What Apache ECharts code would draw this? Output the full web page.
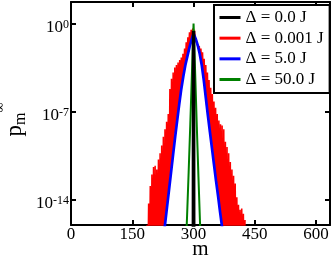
<!DOCTYPE html>
<html>
<head>
<meta charset="utf-8">
<script src="https://cdn.jsdelivr.net/npm/echarts@6/dist/echarts.min.js"></script>
<style>html,body{margin:0;padding:0;background:#fff}#c{width:332px;height:256px}</style>
</head>
<body>
<div id="c"></div>
<script>
// x tick labels and log10 exponents of y tick labels
var xTicks = [0, 150, 300, 450, 600];
var yTickExps = [-14, -7, 0];
var legendNames = ['\u0394 = 0.0 J', '\u0394 = 0.001 J', '\u0394 = 5.0 J', '\u0394 = 50.0 J'];

// series values: m and log10(p_m)
var blackM = [299, 300, 301];
var blackL = [-40, -0.6, -40];

var greenM = [282, 284, 288, 292, 296, 300, 304, 308, 312, 316, 318];
var greenL = [-17, -15.4, -11.8, -8, -4, 0, -4, -8.2, -12.2, -16, -17.5];

var blueM = [228, 230, 235, 240, 245, 250, 255, 260, 265, 270, 275, 280, 285, 290, 295, 300,
             305, 310, 315, 320, 325, 330, 335, 340, 345, 350, 355, 360, 365, 370, 372];
var blueL = [-16.6, -16.0, -14.6, -13.2, -11.8, -10.4, -9.0, -7.7, -6.4, -5.2, -4.2, -3.3, -2.6, -1.9, -1.3, -0.8,
             -1.2, -1.7, -2.4, -3.3, -4.5, -5.9, -7.3, -8.6, -9.9, -11.2, -12.5, -13.7, -15.0, -16.2, -16.7];

// noisy red curve: m from 186 to 426 in steps of 2
var redM0 = 186, redStep = 2;
var redL = [
  -16.0, -20, -14.3, -20, -12.9, -20, -12.0, -20, -11.4, -20,
  -11.3, -20, -11.6, -20, -10.8, -20, -10.3, -20, -9.7, -20,
  -9.0, -20, -8.4, -15.4, -7.8, -14.3, -7.2, -13.2, -5.2, -12.1,
  -4.4, -11.0, -3.9, -9.8, -3.5, -8.7, -3.3, -7.7, -3.1, -6.6,
  -2.9, -5.7, -2.7, -4.8, -2.4, -4.0, -2.0, -3.3, -1.5, -2.7,
  -1.1, -2.2, -0.7, -1.7, -0.5, -1.2, -0.4, -0.9, -0.5, -1.2,
  -1.1, -1.6, -1.5, -2.0, -1.8, -2.6, -2.0, -3.3, -2.3, -4.3,
  -2.8, -5.3, -3.3, -6.5, -3.9, -7.6, -4.5, -8.6, -5.1, -9.6,
  -5.6, -10.7, -6.2, -11.7, -6.7, -12.7, -7.2, -13.7, -7.7, -14.7,
  -8.0, -15.7, -8.1, -20, -8.4, -20, -9.4, -20, -9.8, -20,
  -10.3, -20, -11.0, -20, -11.6, -20, -12.1, -20, -12.7, -20,
  -13.8, -20, -14.4, -20, -14.8, -20, -14.7, -20, -15.1, -20,
  -15.6
];

function pairs(ms, ls) { return ms.map(function (m, i) { return [m, ls[i]]; }); }
var redData = redL.map(function (l, i) { return [redM0 + i * redStep, l]; });

var FONT = 'Liberation Serif';
var X_MIN = 0, X_MAX = 634, Y_MIN = -16, Y_MAX = 1.7;

var chart = echarts.init(document.getElementById('c'), null, {renderer: 'canvas'});
function axisLine() { return {show: true, onZero: false, lineStyle: {color: '#000', width: 2}}; }
function ticks(vals) { return {show: true, inside: true, length: 5, lineStyle: {color: '#000', width: 2}, customValues: vals}; }
chart.setOption({
  animation: false,
  backgroundColor: '#fff',
  textStyle: {fontFamily: FONT, color: '#000'},
  grid: {left: 71, right: 2, top: 2, bottom: 31, containLabel: false, outerBoundsMode: 'none'},
  legend: {
    orient: 'vertical', left: 214, top: 5,
    padding: [4, 6, 5, 4],
    itemWidth: 21, itemHeight: 14, itemGap: 3.67,
    borderColor: '#000', borderWidth: 2, borderRadius: 0,
    backgroundColor: '#fff',
    data: legendNames,
    lineStyle: {width: 3},
    itemStyle: {opacity: 0},
    textStyle: {fontFamily: FONT, fontSize: 17, color: '#000', lineHeight: 14}
  },
  xAxis: [{
    type: 'value', min: X_MIN, max: X_MAX, position: 'bottom',
    name: 'm', nameLocation: 'middle', nameGap: 14, nameMoveOverlap: false,
    nameTextStyle: {fontFamily: FONT, fontSize: 21, color: '#000'},
    axisLine: axisLine(),
    axisTick: ticks(xTicks),
    axisLabel: {show: true, margin: 1, fontFamily: FONT, fontSize: 17, color: '#000', customValues: xTicks},
    splitLine: {show: false}
  }, {
    type: 'value', min: X_MIN, max: X_MAX, position: 'top',
    axisLine: axisLine(),
    axisTick: ticks(xTicks),
    axisLabel: {show: false},
    splitLine: {show: false}
  }],
  yAxis: [{
    type: 'value', min: Y_MIN, max: Y_MAX, position: 'left',
    name: '{p|p}{m|m}{i|\u221E}', nameLocation: 'middle', nameRotate: 90, nameGap: 35, nameMoveOverlap: false,
    nameTextStyle: {
      fontFamily: FONT, color: '#000', padding: [0, 12, 0, 0],
      rich: {
        p: {fontFamily: FONT, fontSize: 23, lineHeight: 43, color: '#000'},
        m: {fontFamily: FONT, fontSize: 16, lineHeight: 16, verticalAlign: 'bottom', padding: [0, 0, 6.8, 0], color: '#000'},
        i: {fontFamily: FONT, fontSize: 14, lineHeight: 14, verticalAlign: 'top', color: '#000'}
      }
    },
    axisLine: axisLine(),
    axisTick: ticks(yTickExps),
    axisLabel: {
      show: true, margin: 2, customValues: yTickExps,
      padding: [7.75, 0, 0, 0],
      formatter: function (v) { return '{b|10}{s|' + v + '}'; },
      rich: {
        b: {fontFamily: FONT, fontSize: 17, lineHeight: 17, verticalAlign: 'bottom', padding: [4.25, 0, 0, 0], color: '#000'},
        s: {fontFamily: FONT, fontSize: 12, lineHeight: 12, verticalAlign: 'top', color: '#000'}
      }
    },
    splitLine: {show: false}
  }, {
    type: 'value', min: Y_MIN, max: Y_MAX, position: 'right',
    axisLine: axisLine(),
    axisTick: ticks(yTickExps),
    axisLabel: {show: false},
    splitLine: {show: false}
  }],
  series: [
    {name: legendNames[0], type: 'line', data: pairs(blackM, blackL), symbol: 'none', z: 5,
     lineStyle: {color: '#000', width: 3.5}, itemStyle: {color: '#000'}},
    {name: legendNames[1], type: 'line', data: redData, symbol: 'none', z: 2,
     lineStyle: {color: '#ff0000', width: 1.5}, itemStyle: {color: '#ff0000'}},
    {name: legendNames[2], type: 'line', data: pairs(blueM, blueL), symbol: 'none', z: 3,
     lineStyle: {color: '#0000ff', width: 2.7}, itemStyle: {color: '#0000ff'}},
    {name: legendNames[3], type: 'line', data: pairs(greenM, greenL), symbol: 'none', z: 4,
     lineStyle: {color: '#008000', width: 2}, itemStyle: {color: '#008000'}}
  ]
});
</script>
</body>
</html>
